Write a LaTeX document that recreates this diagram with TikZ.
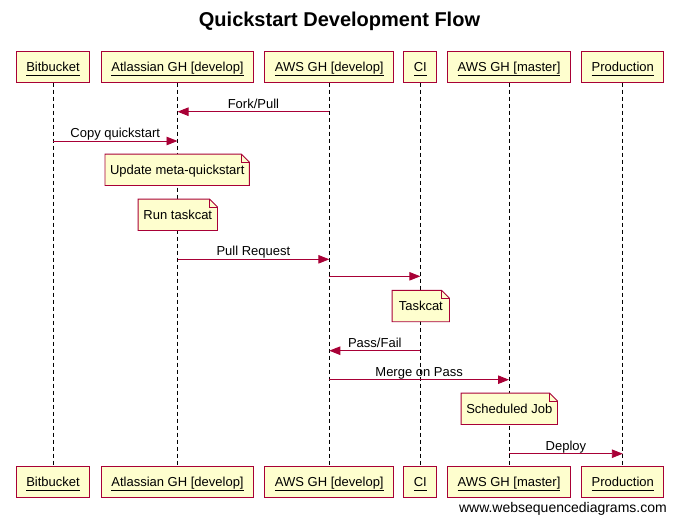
\documentclass[tikz,border=0pt]{standalone}
\usepackage{fontspec}
\setmainfont{Liberation Sans}
\usetikzlibrary{arrows.meta,backgrounds}
\definecolor{boxfill}{HTML}{FEFECE}
\definecolor{boxline}{HTML}{A80036}
\newcommand\notepath[1]{%
  \draw[notedraw] (#1.south west) -- (#1.south east) -- ([yshift=-8pt]#1.north east)
     -- ([xshift=-8pt]#1.north east) -- (#1.north west) -- cycle;
  \draw[boxline,line width=0.9pt] ([xshift=-8pt]#1.north east) |- ([yshift=-8pt]#1.north east);}
\newcommand\ulname[1]{\underline{\vphantom{[]}#1}}
\begin{document}
\begin{tikzpicture}[x=1pt,y=-1pt,font=\fontsize{13}{15}\selectfont,
  actor/.style={draw=boxline,fill=boxfill,line width=1pt,inner xsep=10pt,inner ysep=0pt,
    minimum height=31pt,text height=13pt,text depth=4pt},
  notebox/.style={inner xsep=3pt,inner ysep=0pt,minimum height=31pt,text height=12pt,text depth=3pt},
  notedraw/.style={draw=boxline,fill=boxfill,line width=0.9pt},
  msg/.style={draw=boxline,line width=0.9pt,-{Triangle[length=11pt,width=8.5pt]}},
  life/.style={black,line width=1pt,dash pattern=on 4pt off 3pt},
  lbl/.style={anchor=base,yshift=3.5pt,inner sep=0pt,text=black}]
\useasboundingbox (0,0) rectangle (677,522);

\node[anchor=base,font=\fontsize{20}{24}\selectfont\bfseries] (title) at (339.5,26.5) {Quickstart Development Flow};

% participants (top)
\node[actor] (bt) at (53,66.5) {\ulname{Bitbucket}};
\node[actor] (at) at (177.5,66.5) {\ulname{Atlassian GH [develop]}};
\node[actor] (dt) at (329.3,66.5) {\ulname{AWS GH [develop]}};
\node[actor] (ct) at (420.3,66.5) {\ulname{CI}};
\node[actor] (mt) at (509,66.5) {\ulname{AWS GH [master]}};
\node[actor] (pt) at (622.8,66.5) {\ulname{Production}};
% participants (bottom)
\node[actor] (bb) at (53,481.5) {\ulname{Bitbucket}};
\node[actor] (ab) at (177.5,481.5) {\ulname{Atlassian GH [develop]}};
\node[actor] (db) at (329.3,481.5) {\ulname{AWS GH [develop]}};
\node[actor] (cb) at (420.3,481.5) {\ulname{CI}};
\node[actor] (mb) at (509,481.5) {\ulname{AWS GH [master]}};
\node[actor] (pb) at (622.8,481.5) {\ulname{Production}};

% notes (text)
\node[notebox,minimum width=144pt] (n1) at (177.2,169.8) {Update meta-quickstart};
\node[notebox,minimum width=79pt] (n2) at (177.8,214.8) {Run taskcat};
\node[notebox,minimum width=57pt] (n3) at (420.8,306) {Taskcat};
\node[notebox,minimum width=96pt] (n4) at (509.3,408.8) {Scheduled Job};

\begin{scope}[on background layer]
  \draw[life] (bt) -- (bb);
  \draw[life] (at) -- (ab);
  \draw[life] (dt) -- (db);
  \draw[life] (ct) -- (cb);
  \draw[life] (mt) -- (mb);
  \draw[life] (pt) -- (pb);
  \notepath{n1}
  \notepath{n2}
  \notepath{n3}
  \notepath{n4}
\end{scope}

% message heights
\coordinate (y1) at (0,111.7);
\coordinate (y2) at (0,141);
\coordinate (y3) at (0,259.3);
\coordinate (y4) at (0,276.3);
\coordinate (y5) at (0,350.7);
\coordinate (y6) at (0,379.7);
\coordinate (y7) at (0,453.7);

\draw[msg] (dt |- y1) -- node[lbl] {Fork/Pull} (at |- y1);
\draw[msg] (bt |- y2) -- node[lbl] {Copy quickstart} (at |- y2);
\draw[msg] (at |- y3) -- node[lbl] {Pull Request} (dt |- y3);
\draw[msg] (dt |- y4) -- (ct |- y4);
\draw[msg] (ct |- y5) -- node[lbl] {Pass/Fail} (dt |- y5);
\draw[msg] (dt |- y6) -- node[lbl] {Merge on Pass} (mt |- y6);
\draw[msg] (mt |- y7) -- node[lbl] {Deploy} (pt |- y7);

\node[anchor=base east,font=\fontsize{14}{16}\selectfont,inner sep=0pt] (wm) at (667,512.3) {www.websequencediagrams.com};
\end{tikzpicture}
\end{document}
